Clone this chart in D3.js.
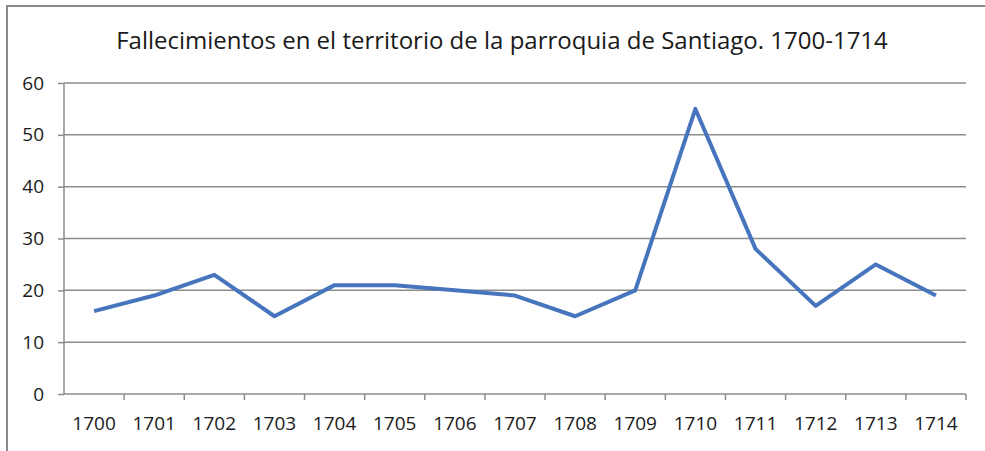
<!DOCTYPE html>
<html>
<head>
<meta charset="utf-8">
<script src="https://cdn.jsdelivr.net/npm/d3@7"></script>
<style>
  body { margin: 0; background: #fff; }
  .tick text { font-family: "Open Sans", sans-serif; font-size: 19px; fill: #1a1a1a; }
</style>
</head>
<body>
<div class="chart"></div>
<script>
var svgWidth = 985;
var svgHeight = 451;

var years = ["1700", "1701", "1702", "1703", "1704", "1705", "1706", "1707",
             "1708", "1709", "1710", "1711", "1712", "1713", "1714"];
var deaths = [16, 19, 23, 15, 21, 21, 20, 19, 15, 20, 55, 28, 17, 25, 19];
var yTicks = [0, 10, 20, 30, 40, 50, 60];

var margin = { top: 83, right: 19, bottom: 57, left: 64 };
var width = svgWidth - margin.left - margin.right;
var height = svgHeight - margin.top - margin.bottom;

var svg = d3.select(".chart")
    .append("svg")
    .attr("width", svgWidth)
    .attr("height", svgHeight);

// outer frame (only top and left edges fall inside the picture)
svg.append("rect")
    .attr("x", 7)
    .attr("y", 6)
    .attr("width", 1000)
    .attr("height", 500)
    .attr("fill", "none")
    .attr("stroke", "#8a8a8a")
    .attr("stroke-width", 2);

svg.append("text")
    .attr("x", 502)
    .attr("y", 49)
    .attr("text-anchor", "middle")
    .style("font-family", "'Open Sans', sans-serif")
    .style("font-size", "24px")
    .style("fill", "#1a1a1a")
    .text("Fallecimientos en el territorio de la parroquia de Santiago. 1700-1714");

var chartGroup = svg.append("g")
    .attr("transform", `translate(${margin.left}, ${margin.top})`);

var xScale = d3.scaleBand()
    .domain(years)
    .range([0, width]);

var yScale = d3.scaleLinear()
    .domain([0, 60])
    .range([height, 0]);

// gridlines
chartGroup.append("g")
    .selectAll("line")
    .data(yTicks.slice(1))
    .enter()
    .append("line")
    .attr("x1", 0)
    .attr("x2", width)
    .attr("y1", d => yScale(d))
    .attr("y2", d => yScale(d))
    .attr("stroke", "#8c8c8c")
    .attr("stroke-width", 1.5);

var leftAxis = d3.axisLeft(yScale)
    .tickValues(yTicks)
    .tickSize(6)
    .tickPadding(14);

var yAxis = chartGroup.append("g").call(leftAxis);
yAxis.selectAll("line, path").attr("stroke", "#8c8c8c").attr("stroke-width", 1.5);
yAxis.select(".domain").attr("d", `M0,${height}V0`);

// category axis, ticks sit on the band boundaries
var bottomAxis = d3.axisBottom(xScale).tickSize(0).tickPadding(23);
var xAxis = chartGroup.append("g")
    .attr("transform", `translate(0, ${height})`)
    .call(bottomAxis);
xAxis.select(".domain").attr("d", `M0,0H${width}`)
    .attr("stroke", "#8c8c8c").attr("stroke-width", 1.5);

xAxis.selectAll(".sep")
    .data(years)
    .enter()
    .append("line")
    .attr("class", "sep")
    .attr("x1", d => xScale(d) + xScale.bandwidth())
    .attr("x2", d => xScale(d) + xScale.bandwidth())
    .attr("y1", 0)
    .attr("y2", 6)
    .attr("stroke", "#8c8c8c")
    .attr("stroke-width", 1.5);

var line = d3.line()
    .x((d, i) => xScale(years[i]) + xScale.bandwidth() / 2)
    .y(d => yScale(d));

chartGroup.append("path")
    .datum(deaths)
    .attr("d", line)
    .attr("fill", "none")
    .attr("stroke", "#4675bd")
    .attr("stroke-width", 4)
    .attr("stroke-linejoin", "round");
</script>
</body>
</html>
